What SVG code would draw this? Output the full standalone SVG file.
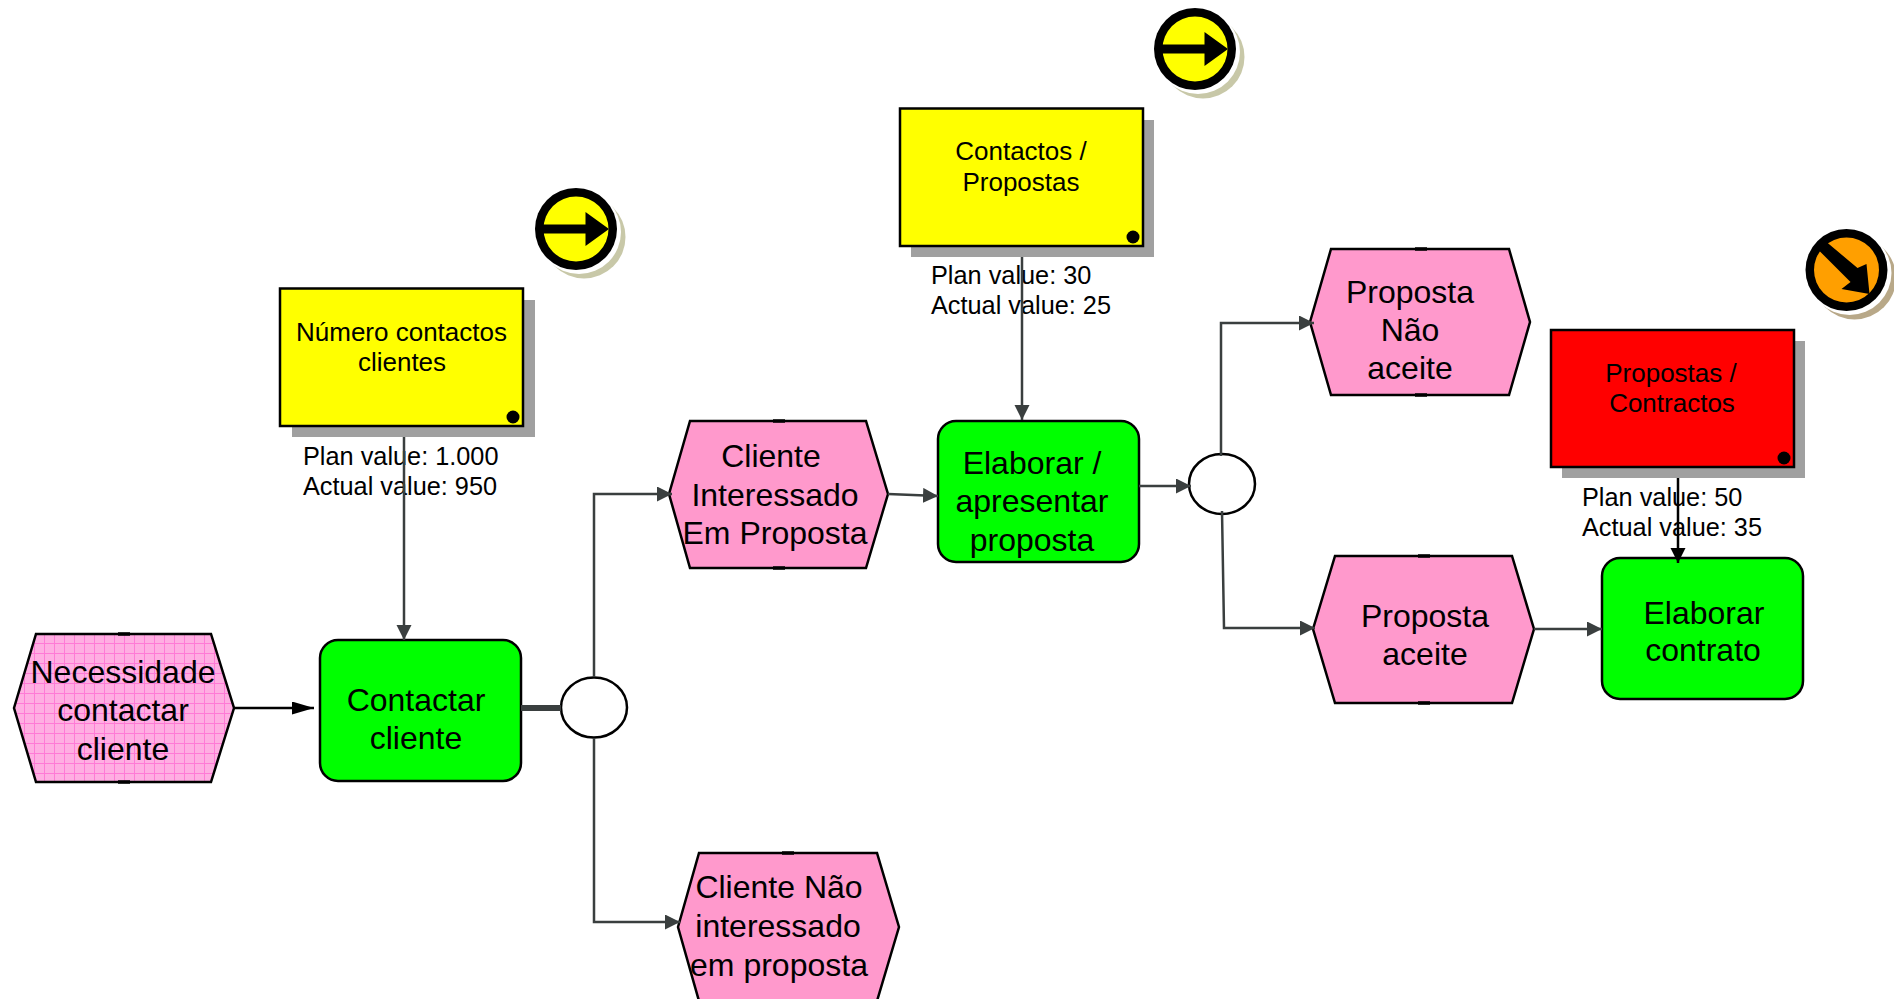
<svg xmlns="http://www.w3.org/2000/svg" width="1894" height="999" viewBox="0 0 1894 999">
<style>
text{font-family:"Liberation Sans",Arial,sans-serif;fill:#000;text-anchor:middle}
.n{font-size:32px}
.m{font-size:26px}
.v{font-size:25.3px;text-anchor:start}
.hex{fill:#ff99cc;stroke:#000;stroke-width:2.5;stroke-linejoin:miter}
.fn{fill:#00ff00;stroke:#000;stroke-width:2.5}
.xor{fill:#fff;stroke:#000;stroke-width:2.5}
.sh{fill:#a0a0a0}
.kp{stroke:#000;stroke-width:2.5}
.c{fill:none;stroke:#3a3f3f;stroke-width:2.5}
.tick{stroke:#000;stroke-width:3.500}
</style>
<defs>
<marker id="ah" markerUnits="userSpaceOnUse" markerWidth="17" markerHeight="17" refX="15" refY="7.500" orient="auto"><path d="M0 0L15 7.500L0 15Z" fill="#3a3f3f"/></marker>
<marker id="ak" markerUnits="userSpaceOnUse" markerWidth="24" markerHeight="16" refX="22" refY="6.500" orient="auto"><path d="M0 0L22 6.500L0 13Z" fill="#000"/></marker>
<marker id="am" markerUnits="userSpaceOnUse" markerWidth="17" markerHeight="17" refX="15" refY="7.500" orient="auto"><path d="M0 0L15 7.500L0 15Z" fill="#000"/></marker>
<pattern id="grid" patternUnits="userSpaceOnUse" width="10" height="10" x="4" y="3">
<rect width="10" height="10" fill="#ffaee2"/><path d="M0 .5H10M.5 0V10" stroke="#ff7ad6" stroke-width="1"/>
</pattern>
<g id="ic-y"><circle cx="8" cy="8" r="41.500" fill="#c8c8a8"/><circle cx="3" cy="3" r="42" fill="#fff"/><circle r="41" fill="#000"/><circle r="32.500" fill="#ffff00"/><path d="M-33-4.500H9.500V-17L33 0L9.500 17V4.500H-33Z" fill="#000"/></g>
<g id="ic-o"><circle cx="8" cy="8" r="41.500" fill="#b8a888"/><circle cx="3" cy="3" r="42" fill="#fff"/><circle r="41" fill="#000"/><circle r="32.500" fill="#ff9f00"/><path d="M-20-28L11-2L20-6L23 24L-5 19L4 12L-28-20Z" fill="#000"/></g>
</defs>

<g id="ev-necessidade"><path class="hex" style="fill:url(#grid)" d="M14 708L36 634H211L234 708L211 782H36Z"/><path class="tick" d="M118 634H130M118 782H130"/><text class="n" x="123" y="683">Necessidade</text><text class="n" x="123" y="721">contactar</text><text class="n" x="123" y="760">cliente</text></g>
<g id="fn-contactar"><rect class="fn" x="320" y="640" width="201" height="141" rx="18"/><text class="n" x="416" y="711">Contactar</text><text class="n" x="416" y="749">cliente</text></g>
<g id="xor-1"><ellipse class="xor" cx="594" cy="707.500" rx="33" ry="30"/></g>
<g id="ev-interessado"><path class="hex" d="M669 494L690 421H866L888 494L866 568H690Z"/><path class="tick" d="M773 421H785M773 568H785"/><text class="n" x="771" y="467">Cliente</text><text class="n" x="775" y="506">Interessado</text><text class="n" x="775" y="544">Em Proposta</text></g>
<g id="ev-nao-interessado"><path class="hex" d="M678 927L699 853H877L899 927L877 1001H699Z"/><path class="tick" d="M782 853H794"/><text class="n" x="779" y="898">Cliente Não</text><text class="n" x="778" y="937">interessado</text><text class="n" x="779" y="976">em proposta</text></g>
<g id="fn-elaborar"><rect class="fn" x="938" y="421" width="201" height="141" rx="18"/><text class="n" x="1032" y="474">Elaborar /</text><text class="n" x="1032" y="512">apresentar</text><text class="n" x="1032" y="551">proposta</text></g>
<g id="xor-2"><ellipse class="xor" cx="1222" cy="484" rx="33" ry="30"/></g>
<g id="ev-nao-aceite"><path class="hex" d="M1310 322L1331 249H1509L1530 322L1509 395H1331Z"/><path class="tick" d="M1415 249H1427M1415 395H1427"/><text class="n" x="1410" y="303">Proposta</text><text class="n" x="1410" y="341">Não</text><text class="n" x="1410" y="379">aceite</text></g>
<g id="ev-aceite"><path class="hex" d="M1313 629L1335 556H1512L1534 629L1512 703H1335Z"/><path class="tick" d="M1418 556H1430M1418 703H1430"/><text class="n" x="1425" y="627">Proposta</text><text class="n" x="1425" y="665">aceite</text></g>
<g id="fn-contrato"><rect class="fn" x="1602" y="558" width="201" height="141" rx="18"/><text class="n" x="1704" y="624">Elaborar</text><text class="n" x="1703" y="661">contrato</text></g>

<g id="kpi-1"><rect class="sh" x="292" y="300" width="243" height="137"/><rect class="kp" fill="#ffff00" x="280" y="288.500" width="243" height="137.500"/><circle cx="513" cy="417" r="6.500"/><text class="m" x="401.500" y="341">Número contactos</text><text class="m" x="402" y="371">clientes</text></g>
<g id="kpi-1-values"><text class="v" x="303" y="465">Plan value: 1.000</text><text class="v" x="303" y="495">Actual value: 950</text></g>
<g id="icon-1"><use href="#ic-y" x="576" y="229"/></g>
<g id="kpi-2"><rect class="sh" x="911" y="120" width="243" height="137"/><rect class="kp" fill="#ffff00" x="900" y="108.500" width="243" height="137.500"/><circle cx="1133" cy="237" r="6.500"/><text class="m" x="1021" y="160">Contactos /</text><text class="m" x="1021" y="191">Propostas</text></g>
<g id="kpi-2-values"><text class="v" x="931" y="284">Plan value: 30</text><text class="v" x="931" y="314">Actual value: 25</text></g>
<g id="icon-2"><use href="#ic-y" x="1195" y="49"/></g>
<g id="kpi-3"><rect class="sh" x="1562" y="341" width="243" height="137"/><rect class="kp" fill="#ff0000" x="1551" y="330" width="243" height="137"/><circle cx="1784" cy="458" r="6.500"/><text class="m" x="1671" y="382">Propostas /</text><text class="m" x="1672" y="412">Contractos</text></g>
<g id="kpi-3-values"><text class="v" x="1582" y="506">Plan value: 50</text><text class="v" x="1582" y="536">Actual value: 35</text></g>
<g id="icon-3"><use href="#ic-o" x="1846.500" y="270"/></g>

<g id="connectors">
<path class="c" style="stroke:#000" d="M234 708H314" marker-end="url(#ak)"/>
<path class="c" style="stroke-width:6" d="M521 708H561"/>
<path class="c" d="M594 677V494H672" marker-end="url(#ah)"/>
<path class="c" d="M594 738V922H680" marker-end="url(#ah)"/>
<path class="c" d="M888 494L938 496" marker-end="url(#ah)"/>
<path class="c" d="M1139 486H1191" marker-end="url(#ah)"/>
<path class="c" d="M1221 456V323H1314" marker-end="url(#ah)"/>
<path class="c" d="M1222 511L1224 628H1315" marker-end="url(#ah)"/>
<path class="c" d="M1534 629H1602" marker-end="url(#ah)"/>
<path class="c" d="M404 437V640" marker-end="url(#ah)"/>
<path class="c" d="M1022 257V420" marker-end="url(#ah)"/>
<path class="c" style="stroke:#000" d="M1678 478V563" marker-end="url(#am)"/>
</g>
</svg>
